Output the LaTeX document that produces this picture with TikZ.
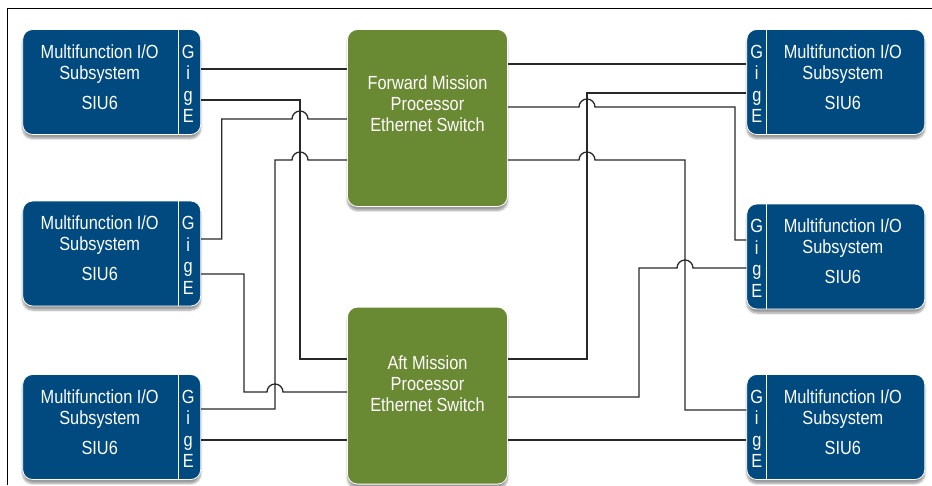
\documentclass[tikz,border=0pt]{standalone}
\usepackage{fontspec}
\setmainfont[FakeStretch=0.86]{Liberation Sans}
\usetikzlibrary{shadows.blur}
\definecolor{siublue}{RGB}{0,74,127}
\definecolor{swgreen}{RGB}{106,137,51}
\definecolor{wirecol}{RGB}{40,40,40}
\tikzset{
  siu/.style={draw=white, line width=0.8pt, fill=siublue, rounded corners=10pt,
    minimum width=178pt, minimum height=105pt, inner sep=0pt,
    blur shadow={shadow xshift=0pt, shadow yshift=-4pt, shadow blur steps=6, shadow opacity=40}},
  sw/.style={draw=white, line width=0.8pt, fill=swgreen, rounded corners=10pt,
    minimum width=160pt, minimum height=177pt, inner sep=0pt,
    blur shadow={shadow xshift=0pt, shadow yshift=-4pt, shadow blur steps=6, shadow opacity=40}},
  lbl/.style={text=white, font=\fontsize{19}{21}\selectfont, align=center, inner sep=0pt},
  gige/.style={text=white, font=\fontsize{19}{21.5}\selectfont, align=center, inner sep=0pt},
  divider/.style={draw=white, line width=1pt},
  wire/.style={draw=wirecol, line width=1.3pt},
  frame/.style={draw=black, line width=1.3pt},
}
% #1 name, #2 cx, #3 cy, #4 divider dx, #5 letters dx, #6 text dx
\newcommand\siubox[6]{%
  \node[siu] (#1) at (#2,#3) {};
  \draw[divider] ({#2+#4},{#3-52.5}) -- ({#2+#4},{#3+52.5});
  \node[gige] (#1g) at ({#2+#5},{#3+2}) {G\\i\\g\\E};
  \node[lbl] (#1t) at ({#2+#6},{#3-5}) {Multifunction I/O\\Subsystem\\[9pt]SIU6};
}
\begin{document}
\begin{tikzpicture}[x=1pt,y=-1pt]
\useasboundingbox (0,0) rectangle (932,485);
\draw[frame] (7.3,485) -- (7.3,8.3) -- (932,8.3);

% I/O subsystems
\siubox{L1}{111.7}{82}{66.6}{76.5}{-12}
\siubox{L2}{111.7}{253.5}{66.6}{76.5}{-12}
\siubox{L3}{111.7}{427}{66.6}{76.5}{-12}
\siubox{R1}{835.8}{82}{-69}{-79}{7}
\siubox{R2}{835.8}{256.5}{-69}{-79}{7}
\siubox{R3}{835.8}{427}{-69}{-79}{7}

% switches
\node[sw] (F) at (427.5,118) {};
\node[lbl] (Ft) at (427.5,104) {Forward Mission\\Processor\\Ethernet Switch};
\node[sw] (A) at (427.5,395.6) {};
\node[lbl] (At) at (427.5,383.5) {Aft Mission\\Processor\\Ethernet Switch};

% ports
\coordinate (L1a) at (L1.east |- 0,69);
\coordinate (L1b) at (L1.east |- 0,100);
\coordinate (L2a) at (L2.east |- 0,239);
\coordinate (L2b) at (L2.east |- 0,274);
\coordinate (L3a) at (L3.east |- 0,409);
\coordinate (L3b) at (L3.east |- 0,440);
\coordinate (R1a) at (R1.west |- 0,64);
\coordinate (R1b) at (R1.west |- 0,93);
\coordinate (R2a) at (R2.west |- 0,240);
\coordinate (R2b) at (R2.west |- 0,268);
\coordinate (R3a) at (R3.west |- 0,410);
\coordinate (R3b) at (R3.west |- 0,440);

% left wiring
\draw[wire] (L1a) -- (F.west |- L1a);
\draw[wire] (L1b) -- (300,100) -- (300,359) -- (A.west |- 0,359);
\draw[wire] (L2a) -- (221.7,239) -- (221.7,119) -- (292,119)
  arc[start angle=180, end angle=360, radius=8] -- (F.west |- 0,119);
\draw[wire] (L2b) -- (244,274) -- (244,392) -- (267,392)
  arc[start angle=180, end angle=360, radius=8] -- (A.west |- 0,392);
\draw[wire] (L3a) -- (275,409) -- (275,160) -- (292,160)
  arc[start angle=180, end angle=360, radius=8] -- (F.west |- 0,160);
\draw[wire] (L3b) -- (A.west |- L3b);

% right wiring
\draw[wire] (F.east |- R1a) -- (R1a);
\draw[wire] (F.east |- 0,107) -- (579,107)
  arc[start angle=180, end angle=360, radius=8] -- (735,107) -- (735,240) -- (R2a);
\draw[wire] (F.east |- 0,160) -- (579,160)
  arc[start angle=180, end angle=360, radius=8] -- (685,160) -- (685,410) -- (R3a);
\draw[wire] (A.east |- 0,359) -- (587,359) -- (587,93) -- (R1b);
\draw[wire] (A.east |- 0,397) -- (639,397) -- (639,268) -- (677,268)
  arc[start angle=180, end angle=360, radius=8] -- (R2b);
\draw[wire] (A.east |- R3b) -- (R3b);
\end{tikzpicture}
\end{document}
